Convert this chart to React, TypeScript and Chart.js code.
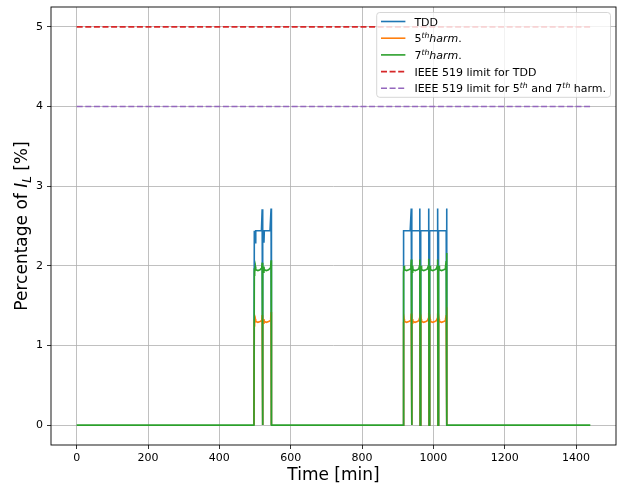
import React, { useEffect, useRef } from "react";
import { Chart, registerables } from "chart.js";

Chart.register(...registerables);

// ---- data ----
const timeMin = [
  0, 497,
  498, 499, 501, 502, 508, 514, 518, 519, 520, 521,
  522, 523, 525, 526, 532, 538, 542, 544, 545, 546,
  915,
  916, 917, 918, 919, 925, 931, 935, 937, 938, 939,
  940, 941, 942, 943, 949, 955, 959, 961, 962, 963,
  964, 965, 966, 967, 973, 979, 983, 986, 987, 988,
  989, 990, 991, 992, 998, 1004, 1008, 1011, 1012, 1013,
  1014, 1015, 1016, 1017, 1023, 1029, 1033, 1034, 1036, 1037, 1038,
  1440,
];
const tdd = [
  0, 0,
  2.44, 2.44, 2.29, 2.44, 2.44, 2.44, 2.44, 2.44, 2.71, 0,
  2.44, 2.44, 2.29, 2.44, 2.44, 2.44, 2.44, 2.44, 2.72, 0,
  0,
  2.44, 2.44, 2.44, 2.44, 2.44, 2.44, 2.44, 2.44, 2.72, 0,
  2.44, 2.44, 2.44, 2.44, 2.44, 2.44, 2.44, 2.44, 2.72, 0,
  2.44, 2.44, 2.44, 2.44, 2.44, 2.44, 2.44, 2.44, 2.72, 0,
  2.44, 2.44, 2.44, 2.44, 2.44, 2.44, 2.44, 2.44, 2.72, 0,
  2.44, 2.44, 2.44, 2.44, 2.44, 2.44, 2.44, 2.44, 2.44, 2.72, 0,
  0,
];
const harm5 = [
  0, 0,
  1.29, 1.28, 1.33, 1.30, 1.29, 1.30, 1.31, 1.33, 1.38, 0,
  1.29, 1.28, 1.33, 1.30, 1.29, 1.30, 1.31, 1.34, 1.42, 0,
  0,
  1.29, 1.28, 1.33, 1.30, 1.29, 1.30, 1.31, 1.34, 1.40, 0,
  1.29, 1.28, 1.33, 1.30, 1.29, 1.30, 1.31, 1.34, 1.40, 0,
  1.29, 1.28, 1.33, 1.30, 1.29, 1.30, 1.31, 1.34, 1.41, 0,
  1.29, 1.28, 1.33, 1.30, 1.29, 1.30, 1.31, 1.34, 1.40, 0,
  1.29, 1.28, 1.33, 1.30, 1.29, 1.30, 1.31, 1.33, 1.38, 1.48, 0,
  0,
];
const harm7 = [
  0, 0,
  1.93, 1.92, 1.99, 1.95, 1.94, 1.95, 1.97, 1.99, 2.04, 0,
  1.93, 1.92, 1.99, 1.95, 1.94, 1.95, 1.97, 2.00, 2.07, 0,
  0,
  1.92, 1.92, 2.00, 1.95, 1.94, 1.95, 1.96, 2.00, 2.08, 0,
  1.92, 1.92, 2.00, 1.95, 1.94, 1.95, 1.96, 2.00, 2.08, 0,
  1.92, 1.92, 2.00, 1.95, 1.94, 1.95, 1.96, 2.00, 2.09, 0,
  1.92, 1.92, 2.00, 1.95, 1.94, 1.95, 1.96, 2.00, 2.08, 0,
  1.92, 1.92, 2.00, 1.95, 1.94, 1.95, 1.96, 1.99, 2.06, 2.16, 0,
  0,
];
const limitTime = [0, 1440];
const tddLimit = [5, 5];
const harmLimit = [4, 4];
const xTicks = [0, 200, 400, 600, 800, 1000, 1200, 1400];
const yTicks = [0, 1, 2, 3, 4, 5];

const FONT = "'DejaVu Sans', sans-serif";
const C_TDD = "#1f77b4";
const C_H5 = "#ff7f0e";
const C_H7 = "#2ca02c";
const C_LTDD = "#d62728";
const C_LH = "#9467bd";

type Seg = { t: string; it?: boolean; sup?: boolean; sub?: boolean };

const legendItems: { color: string; dash: number[]; label: Seg[] }[] = [
  { color: C_TDD, dash: [], label: [{ t: "TDD" }] },
  {
    color: C_H5,
    dash: [],
    label: [{ t: "5" }, { t: "th", it: true, sup: true }, { t: "harm", it: true }, { t: "." }],
  },
  {
    color: C_H7,
    dash: [],
    label: [{ t: "7" }, { t: "th", it: true, sup: true }, { t: "harm", it: true }, { t: "." }],
  },
  { color: C_LTDD, dash: [6, 2.6], label: [{ t: "IEEE 519 limit for TDD" }] },
  {
    color: C_LH,
    dash: [6, 2.6],
    label: [
      { t: "IEEE 519 limit for 5" },
      { t: "th", it: true, sup: true },
      { t: " and 7" },
      { t: "th", it: true, sup: true },
      { t: " harm." },
    ],
  },
];

const yTitle: Seg[] = [{ t: "Percentage of " }, { t: "I", it: true }, { t: "L", it: true, sub: true }, { t: " [%]" }];

function segFont(s: Seg, size: number) {
  const fs = s.sup || s.sub ? size * 0.7 : size;
  return `${s.it ? "italic " : ""}${fs}px ${FONT}`;
}
function richWidth(ctx: CanvasRenderingContext2D, segs: Seg[], size: number) {
  let w = 0;
  for (const s of segs) {
    ctx.font = segFont(s, size);
    w += ctx.measureText(s.t).width;
  }
  return w;
}
function drawRich(ctx: CanvasRenderingContext2D, segs: Seg[], x: number, y: number, size: number) {
  let cx = x;
  ctx.textBaseline = "alphabetic";
  ctx.textAlign = "left";
  for (const s of segs) {
    ctx.font = segFont(s, size);
    const dy = s.sup ? -size * 0.4 : s.sub ? size * 0.22 : 0;
    ctx.fillText(s.t, cx, y + dy);
    cx += ctx.measureText(s.t).width;
  }
}

const overlayPlugin = {
  id: "overlay",
  afterDraw(chart: any) {
    const ctx: CanvasRenderingContext2D = chart.ctx;
    const a = chart.chartArea;
    ctx.save();
    // frame
    ctx.strokeStyle = "#000";
    ctx.lineWidth = 0.9;
    ctx.strokeRect(a.left, a.top, a.right - a.left, a.bottom - a.top);

    // x title
    ctx.fillStyle = "#000";
    ctx.font = `17px ${FONT}`;
    ctx.textAlign = "center";
    ctx.textBaseline = "middle";
    ctx.fillText("Time [min]", (a.left + a.right) / 2, 476);

    // y title
    const ys = 17;
    const yw = richWidth(ctx, yTitle, ys);
    ctx.save();
    ctx.translate(21, (a.top + a.bottom) / 2);
    ctx.rotate(-Math.PI / 2);
    ctx.fillStyle = "#000";
    drawRich(ctx, yTitle, -yw / 2, 6, ys);
    ctx.restore();

    // legend
    const ls = 11;
    let maxW = 0;
    for (const it of legendItems) maxW = Math.max(maxW, richWidth(ctx, it.label, ls));
    const boxRight = a.right - 5.5;
    const boxTop = a.top + 5.5;
    const boxW = 4.3 + 24.4 + 9 + maxW + 4.5;
    const boxLeft = boxRight - boxW;
    const rowH = 16.7;
    const boxH = 9 + rowH * 4 + 9;
    const r = 3;
    ctx.beginPath();
    ctx.moveTo(boxLeft + r, boxTop);
    ctx.lineTo(boxRight - r, boxTop);
    ctx.quadraticCurveTo(boxRight, boxTop, boxRight, boxTop + r);
    ctx.lineTo(boxRight, boxTop + boxH - r);
    ctx.quadraticCurveTo(boxRight, boxTop + boxH, boxRight - r, boxTop + boxH);
    ctx.lineTo(boxLeft + r, boxTop + boxH);
    ctx.quadraticCurveTo(boxLeft, boxTop + boxH, boxLeft, boxTop + boxH - r);
    ctx.lineTo(boxLeft, boxTop + r);
    ctx.quadraticCurveTo(boxLeft, boxTop, boxLeft + r, boxTop);
    ctx.closePath();
    ctx.fillStyle = "rgba(255,255,255,0.8)";
    ctx.fill();
    ctx.strokeStyle = "rgba(204,204,204,0.8)";
    ctx.lineWidth = 1;
    ctx.stroke();

    legendItems.forEach((it, i) => {
      const cy = boxTop + 9 + i * rowH;
      ctx.beginPath();
      ctx.setLineDash(it.dash);
      ctx.strokeStyle = it.color;
      ctx.lineWidth = 1.6;
      ctx.moveTo(boxLeft + 4.3, cy);
      ctx.lineTo(boxLeft + 28.7, cy);
      ctx.stroke();
      ctx.setLineDash([]);
      ctx.fillStyle = "#000";
      drawRich(ctx, it.label, boxLeft + 37.7, cy + 4, ls);
    });
    ctx.restore();
  },
};

function pts(xs: number[], ys: number[]) {
  return xs.map((x, i) => ({ x, y: ys[i] }));
}

// lines hidden under the top-most green trace along the zero baseline
const hideZeroRun = (ctx: any) =>
  ctx.p0.parsed.y === 0 && ctx.p1.parsed.y === 0 ? "rgba(0,0,0,0)" : undefined;

export default function App() {
  const ref = useRef<HTMLCanvasElement | null>(null);
  useEffect(() => {
    if (!ref.current) return;
    const lineDs = (
      label: string,
      data: any,
      color: string,
      order: number,
      dash: number[] = [],
      hideZero = false
    ) => ({
      label,
      data,
      borderColor: color,
      backgroundColor: color,
      borderWidth: 1.6,
      borderDash: dash,
      pointRadius: 0,
      pointHoverRadius: 0,
      tension: 0,
      fill: false,
      order,
      segment: hideZero ? { borderColor: hideZeroRun } : undefined,
    });
    const chart = new Chart(ref.current, {
      type: "line",
      data: {
        datasets: [
          lineDs("TDD", pts(timeMin, tdd), C_TDD, 5, [], true),
          lineDs("5th harm.", pts(timeMin, harm5), C_H5, 4, [], true),
          lineDs("7th harm.", pts(timeMin, harm7), C_H7, 3),
          lineDs("IEEE 519 limit for TDD", pts(limitTime, tddLimit), C_LTDD, 2, [6, 2.6]),
          lineDs("IEEE 519 limit for 5th and 7th harm.", pts(limitTime, harmLimit), C_LH, 1, [6, 2.6]),
        ] as any,
      },
      options: {
        responsive: false,
        animation: false,
        events: [],
        layout: { padding: { left: 0, right: 3, top: 7, bottom: 0 } },
        plugins: { legend: { display: false }, tooltip: { enabled: false }, title: { display: false } },
        scales: {
          x: {
            type: "linear",
            min: -72,
            max: 1512,
            afterBuildTicks: (s: any) => {
              s.ticks = xTicks.map((v) => ({ value: v }));
            },
            afterFit: (s: any) => {
              s.height = 42;
              s.paddingLeft = 0;
              s.paddingRight = 0;
              s.paddingTop = 0;
              s.paddingBottom = 0;
            },
            ticks: {
              color: "#000",
              font: { family: FONT, size: 11 },
              padding: 3,
              maxRotation: 0,
              autoSkip: false,
              callback: (v: any) => String(v),
            },
            grid: { color: "#b0b0b0", lineWidth: 0.8, tickLength: 4, tickColor: "#000", tickWidth: 0.8 },
            border: { display: false },
          },
          y: {
            type: "linear",
            min: -0.25,
            max: 5.25,
            afterBuildTicks: (s: any) => {
              s.ticks = yTicks.map((v) => ({ value: v }));
            },
            afterFit: (s: any) => {
              s.width = 51;
              s.paddingTop = 0;
              s.paddingBottom = 0;
              s.paddingLeft = 0;
              s.paddingRight = 0;
            },
            ticks: {
              color: "#000",
              font: { family: FONT, size: 11 },
              padding: 4,
              autoSkip: false,
              callback: (v: any) => String(v),
            },
            grid: { color: "#b0b0b0", lineWidth: 0.8, tickLength: 4, tickColor: "#000", tickWidth: 0.8 },
            border: { display: false },
          },
        },
      },
      plugins: [overlayPlugin],
    } as any);
    return () => chart.destroy();
  }, []);
  return (
    <div style={{ position: "fixed", left: 0, top: 0, width: 619, height: 487, background: "#fff" }}>
      <canvas ref={ref} width={619} height={487} style={{ display: "block" }} />
    </div>
  );
}
